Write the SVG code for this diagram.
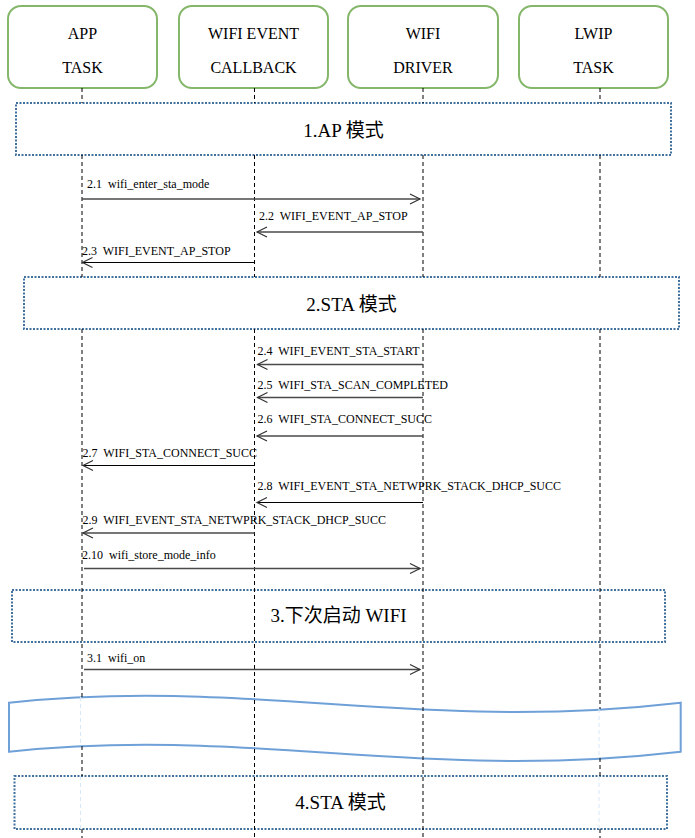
<svg xmlns="http://www.w3.org/2000/svg" width="695" height="838" viewBox="0 0 695 838">
<style>
.hdr{fill:#fff;stroke:#85b76a;stroke-width:2}
.ht{font-family:"Liberation Serif",serif;font-size:16px;fill:#000;text-anchor:middle}
.life{fill:none;stroke:#000;stroke-width:1;stroke-dasharray:4 3}
.faint{fill:none;stroke:#d8e7f6;stroke-width:1;stroke-dasharray:4 3}
.phase{fill:#fff;stroke:#41719c;stroke-width:2;stroke-dasharray:2 1.5}
.pt{font-family:"Liberation Serif",serif;font-size:19px;fill:#000;text-anchor:middle}
.cjk{font-family:"Noto Sans CJK SC",sans-serif}
.wave{fill:#fff;stroke:#6fa0d8;stroke-width:2}
.m{fill:none;stroke:#4a4a4a;stroke-width:1.4}
.mk{fill:none;stroke:#000;stroke-width:1}
.ml{font-family:"Liberation Serif",serif;font-size:12px;fill:#000;white-space:pre}
</style>
<defs>
<marker id="ah" markerUnits="userSpaceOnUse" markerWidth="14" markerHeight="14" viewBox="-12 -7 14 14" refX="0" refY="0" orient="auto">
<path d="M-10,-5 L0,0 L-10,5" fill="none" stroke="#333" stroke-width="1.2"/>
</marker>
</defs>

<g id="phases">
<g id="phase-1"><rect class="phase" x="16" y="103" width="655" height="52"/><text class="pt" x="343.5" y="136.5">1.AP <tspan class="cjk">模式</tspan></text></g>
<g id="phase-2"><rect class="phase" x="24" y="277" width="655" height="52"/><text class="pt" x="351.5" y="310.5">2.STA <tspan class="cjk">模式</tspan></text></g>
<g id="phase-3"><rect class="phase" x="12" y="590" width="653" height="52" style="fill:none"/><text class="pt" x="338.5" y="621.5">3.<tspan class="cjk">下次启动</tspan> WIFI</text></g>
<g id="break"><path class="wave" d="M9,702.7 C250,677 420,733 680.7,702.7 L680.7,751.7 C420,782 250,726 9,751.7 Z"/></g>
<g id="phase-4"><rect class="phase" x="14.5" y="776" width="652.5" height="53"/><text class="pt" x="340.5" y="809">4.STA <tspan class="cjk">模式</tspan></text></g>
</g>

<g id="app-task">
<rect class="hdr" x="8" y="6" width="149" height="82" rx="13"/>
<text class="ht" x="82.5" y="39">APP</text><text class="ht" x="82.5" y="73">TASK</text>
<path class="life" d="M82,88 V103 M82,155 V277 M82,329 V697 M82,746 V776 M82,829 V838"/>
<path class="faint" d="M80.5,697 V746 M80.5,776 V829"/>
</g>
<g id="wifi-event-callback">
<rect class="hdr" x="179" y="6" width="149" height="82" rx="13"/>
<text class="ht" x="253.5" y="39">WIFI EVENT</text><text class="ht" x="253.5" y="73">CALLBACK</text>
<path class="life" d="M254.5,88 V103 M254.5,155 V277 M254.5,329 V838"/>
</g>
<g id="wifi-driver">
<rect class="hdr" x="348" y="6" width="150" height="82" rx="13"/>
<text class="ht" x="423" y="39">WIFI</text><text class="ht" x="423" y="73">DRIVER</text>
<path class="life" d="M423,88 V103 M423,155 V277 M423,329 V838"/>
</g>
<g id="lwip-task">
<rect class="hdr" x="519" y="6" width="149" height="82" rx="13"/>
<text class="ht" x="593.5" y="39">LWIP</text><text class="ht" x="593.5" y="73">TASK</text>
<path class="life" d="M600,88 V103 M600,155 V277 M600,329 V709 M600,758 V776 M600,829 V838"/>
<path class="faint" d="M599,709 V758 M599,776 V829"/>
</g>

<g id="connectors">
<line class="m" x1="82" y1="199" x2="420" y2="199" marker-end="url(#ah)"/>
<text class="ml" x="87" y="187.5">2.1&#160; wifi_enter_sta_mode</text>
<line class="m" x1="423" y1="232" x2="257" y2="232" marker-end="url(#ah)"/>
<text class="ml" x="259" y="220.3">2.2&#160; WIFI_EVENT_AP_STOP</text>
<line class="mk" x1="254.5" y1="262.5" x2="82.5" y2="262.5" marker-end="url(#ah)"/>
<text class="ml" x="82" y="255">2.3&#160; WIFI_EVENT_AP_STOP</text>
<line class="m" x1="423" y1="364.5" x2="257.5" y2="364.5" marker-end="url(#ah)"/>
<text class="ml" x="257.5" y="355">2.4&#160; WIFI_EVENT_STA_START</text>
<line class="m" x1="423" y1="397.5" x2="257.5" y2="397.5" marker-end="url(#ah)"/>
<text class="ml" x="257.5" y="389.3">2.5&#160; WIFI_STA_SCAN_COMPLETED</text>
<line class="m" x1="423" y1="436" x2="257" y2="436" marker-end="url(#ah)"/>
<text class="ml" x="257.5" y="423.3">2.6&#160; WIFI_STA_CONNECT_SUCC</text>
<line class="mk" x1="254.5" y1="465.5" x2="83" y2="465.5" marker-end="url(#ah)"/>
<text class="ml" x="82.5" y="457.3">2.7&#160; WIFI_STA_CONNECT_SUCC</text>
<line class="mk" x1="423" y1="502.5" x2="257" y2="502.5" marker-end="url(#ah)"/>
<text class="ml" x="257.5" y="490.3">2.8&#160; WIFI_EVENT_STA_NETWPRK_STACK_DHCP_SUCC</text>
<line class="m" x1="254.5" y1="533" x2="83" y2="533" marker-end="url(#ah)"/>
<text class="ml" x="82.5" y="523.7">2.9&#160; WIFI_EVENT_STA_NETWPRK_STACK_DHCP_SUCC</text>
<line class="m" x1="84" y1="568.5" x2="420" y2="568.5" marker-end="url(#ah)"/>
<text class="ml" x="82" y="559">2.10&#160; wifi_store_mode_info</text>
<line class="m" x1="84" y1="669.5" x2="420" y2="669.5" marker-end="url(#ah)"/>
<text class="ml" x="87" y="661.7">3.1&#160; wifi_on</text>
</g>
</svg>
